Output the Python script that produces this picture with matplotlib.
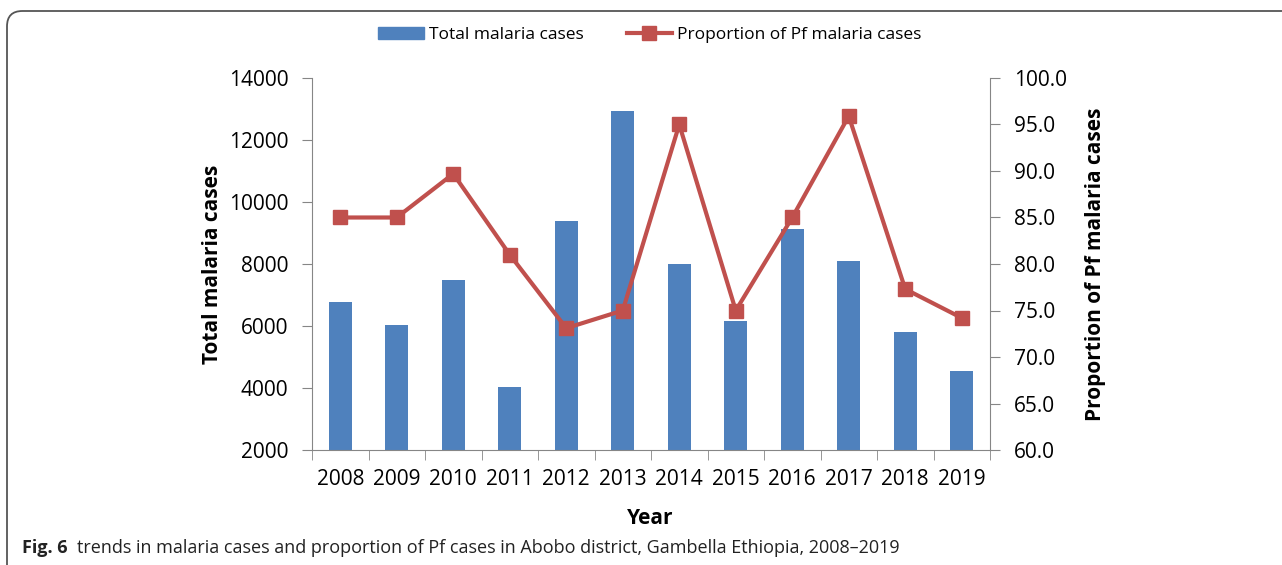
import matplotlib
matplotlib.use("Agg")
import matplotlib.pyplot as plt
from matplotlib.patches import FancyBboxPatch
from matplotlib.lines import Line2D
from matplotlib.patches import Patch

years = ["2008", "2009", "2010", "2011", "2012", "2013", "2014", "2015", "2016", "2017", "2018", "2019"]
total_cases = [6780, 6030, 7500, 4030, 9390, 12940, 8000, 6160, 9130, 8100, 5810, 4550]
pf_proportion = [85.0, 85.0, 89.7, 81.0, 73.1, 75.0, 95.0, 75.0, 85.0, 95.9, 77.3, 74.2]

W, H = 1282, 565
fig = plt.figure(figsize=(W / 100, H / 100), dpi=100)
plt.rcParams['font.family'] = ['Open Sans', 'DejaVu Sans']

# frame
frame = FancyBboxPatch((7 / W, -0.2), 1.2, (H - 11) / H + 0.2,
                       boxstyle="round,pad=0,rounding_size=0.012",
                       transform=fig.transFigure, fill=False,
                       edgecolor="#555555", linewidth=1.3, mutation_aspect=W / H)
fig.patches.append(frame)

ax = fig.add_axes([312 / W, 1 - 450 / H, (990 - 312) / W, (450 - 78) / H])
x = list(range(len(years)))
bar_color = "#4F81BD"
line_color = "#C0504D"
axis_color = "#868686"

ax.bar(x, total_cases, width=0.4, color=bar_color, zorder=2)
ax.set_xlim(-0.5, len(years) - 0.5)
ax.set_ylim(2000, 14000)
ax.set_yticks(range(2000, 14001, 2000))
ax.set_xticks(x)
ax.set_xticklabels(years)
ax.set_xticks([i - 0.5 for i in range(len(years) + 1)], minor=True)
ax.tick_params(axis="x", which="major", length=0, labelsize=15, pad=14)
ax.tick_params(axis="x", which="minor", length=7, color=axis_color, direction="out")
ax.tick_params(axis="y", length=7, color=axis_color, labelsize=15, pad=10)
for s in ["top", "right"]:
    ax.spines[s].set_visible(False)
for s in ["left", "bottom"]:
    ax.spines[s].set_color(axis_color)
ax.set_ylabel("Total malaria cases", fontsize=15, fontweight="bold", labelpad=4)

ax2 = ax.twinx()
ax2.plot(x, pf_proportion, color=line_color, linewidth=3, marker="s",
         markersize=10, zorder=3)
ax2.set_ylim(60, 100)
ax2.set_yticks(range(60, 101, 5))
ax2.set_yticklabels([f"{v:.1f}" for v in range(60, 101, 5)])
ax2.tick_params(axis="y", length=7, color=axis_color, labelsize=15, pad=10)
for s in ["top", "left", "bottom"]:
    ax2.spines[s].set_visible(False)
ax2.spines["right"].set_color(axis_color)
ax2.set_ylabel("Proportion of Pf malaria cases", fontsize=15, fontweight="bold", labelpad=13)

fig.text(650 / W, 1 - 518 / H, "Year", fontsize=15, fontweight="bold",
         ha="center", va="center")

handles = [Patch(color=bar_color, label="Total malaria cases"),
           Line2D([0], [0], color=line_color, linewidth=3, marker="s", markersize=10,
                  label="Proportion of Pf malaria cases")]
fig.legend(handles=handles, loc="center", bbox_to_anchor=(650 / W, 1 - 35 / H),
           ncol=2, frameon=False, fontsize=12.5, handlelength=2.6,
           columnspacing=2.5, handletextpad=0.3)

t1 = fig.text(22 / W, 1 - 548 / H, "Fig. 6", fontsize=13, fontweight="bold",
              ha="left", va="center", color="#222222")
fig.canvas.draw()
bb = t1.get_window_extent()
t2 = fig.text((bb.x1 + 9) / W, 1 - 548 / H,
              "trends in malaria cases and proportion of Pf cases in Abobo district, Gambella Ethiopia, 2008\u20132019",
              fontsize=13, ha="left", va="center", color="#222222")

fig.savefig("out.png", dpi=100)
